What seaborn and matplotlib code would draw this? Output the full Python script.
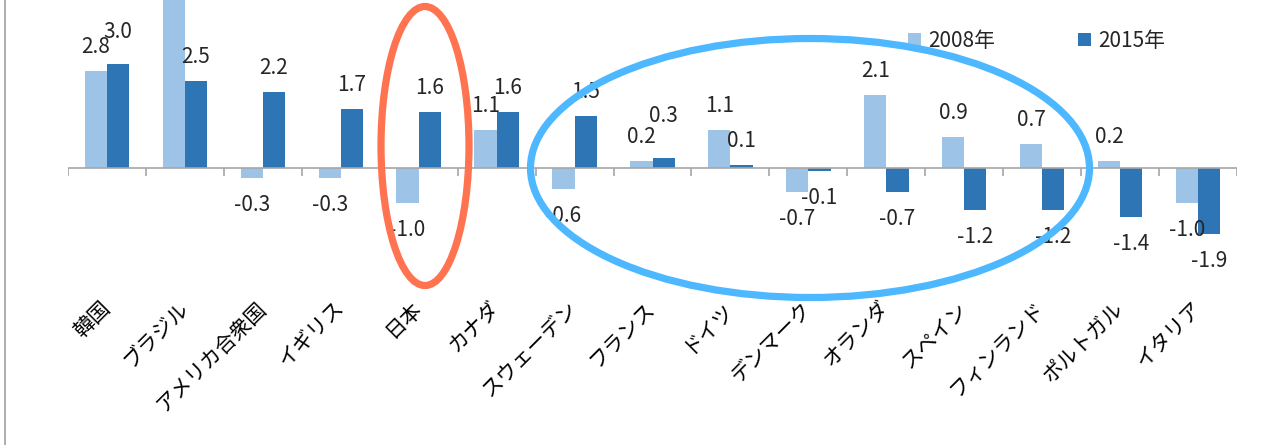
import matplotlib
matplotlib.use("Agg")
import matplotlib.pyplot as plt
from matplotlib.patches import Ellipse, Patch
from matplotlib.lines import Line2D
import seaborn as sns
import pandas as pd

# ---------- data ----------
countries = ["韓国", "ブラジル", "アメリカ合衆国", "イギリス", "日本", "カナダ",
             "スウェーデン", "フランス", "ドイツ", "デンマーク", "オランダ",
             "スペイン", "フィンランド", "ポルトガル", "イタリア"]
years = ["2008年", "2015年"]
vals_2008 = [2.8, 5.2, -0.3, -0.3, -1.0, 1.1, -0.6, 0.2, 1.1, -0.7, 2.1, 0.9, 0.7, 0.2, -1.0]
vals_2015 = [3.0, 2.5, 2.2, 1.7, 1.6, 1.6, 1.5, 0.3, 0.1, -0.1, -0.7, -1.2, -1.2, -1.4, -1.9]

colors = ["#9DC3E6", "#2E75B6"]

df = pd.DataFrame({
    "country": countries * 2,
    "year": [years[0]] * len(countries) + [years[1]] * len(countries),
    "value": vals_2008 + vals_2015,
})

# ---------- figure ----------
sns.set_theme(style="white")
plt.rcParams["font.family"] = ["Noto Sans CJK JP", "DejaVu Sans"]

W, H = 1274, 445
fig = plt.figure(figsize=(W / 100, H / 100), dpi=100)
ax_left, ax_right = 68, 1237
ax_top, ax_bot = 0, 289.5
ax = fig.add_axes([ax_left / W, 1 - ax_bot / H, (ax_right - ax_left) / W, (ax_bot - ax_top) / H])

sns.barplot(data=df, x="country", y="value", hue="year", palette=colors, saturation=1,
            width=0.57, gap=0, linewidth=0, errorbar=None, legend=False, ax=ax)

ymin, ymax = -3.5, 4.84
ax.set_xlim(-0.5, len(countries) - 0.5)
ax.set_ylim(ymin, ymax)
for s in ax.spines.values():
    s.set_visible(False)
ax.set_yticks([])
ax.set_xlabel("")
ax.set_ylabel("")

# zero line with category tick marks
ax.axhline(0, color="#A6A6A6", lw=1.2, zorder=3)
ax.vlines([k - 0.5 for k in range(len(countries) + 1)], 0, -0.24,
          color="#A6A6A6", lw=1.2, zorder=3)

ax.tick_params(axis="x", length=0, pad=11, labelsize=15, labelcolor="black")
ax.set_xticks(range(len(countries)))
ax.set_xticklabels(countries, rotation=45, ha="right", va="center",
                   rotation_mode="anchor")

# data labels (extra lift for labels Excel pushed apart)
nudge = {(1, 0): 8, (1, 7): 18}
for i, cont in enumerate(ax.containers):
    for j, bar in enumerate(cont):
        v = bar.get_height()
        if v > ymax:
            continue  # bar runs off the top of the cropped chart, label not visible
        x = bar.get_x() + bar.get_width() / 2
        off = 24 if v >= 0 else -27
        off += nudge.get((i, j), 0)
        ax.annotate(f"{v:.1f}", (x, v), xytext=(0, off), textcoords="offset pixels",
                    ha="center", va="center", fontsize=15, color="#262626",
                    annotation_clip=False)

# legend
handles = [Patch(facecolor=c, edgecolor="none") for c in colors]
fig.legend(handles, years, loc="center left", bbox_to_anchor=(908 / W, 1 - 41 / H),
           ncol=2, frameon=False, fontsize=15, handlelength=0.6, handleheight=0.6,
           handletextpad=0.35, columnspacing=4.0, borderaxespad=0, borderpad=0,
           labelcolor="#262626")

# highlight ellipses
def ell(cx, cy, w, h, color):
    fig.add_artist(Ellipse((cx / W, 1 - cy / H), w / W, h / H, transform=fig.transFigure,
                           fill=False, edgecolor=color, lw=5.2, zorder=10))

ell(425, 146, 88, 279, "#FF7350")
ell(810, 168, 559, 259, "#4DB8FF")

# chart frame edge on the left
fig.add_artist(Line2D([5 / W, 5 / W], [0, 1], transform=fig.transFigure,
                      color="#A0A0A0", lw=1.2))

fig.savefig("out.png", dpi=100)
